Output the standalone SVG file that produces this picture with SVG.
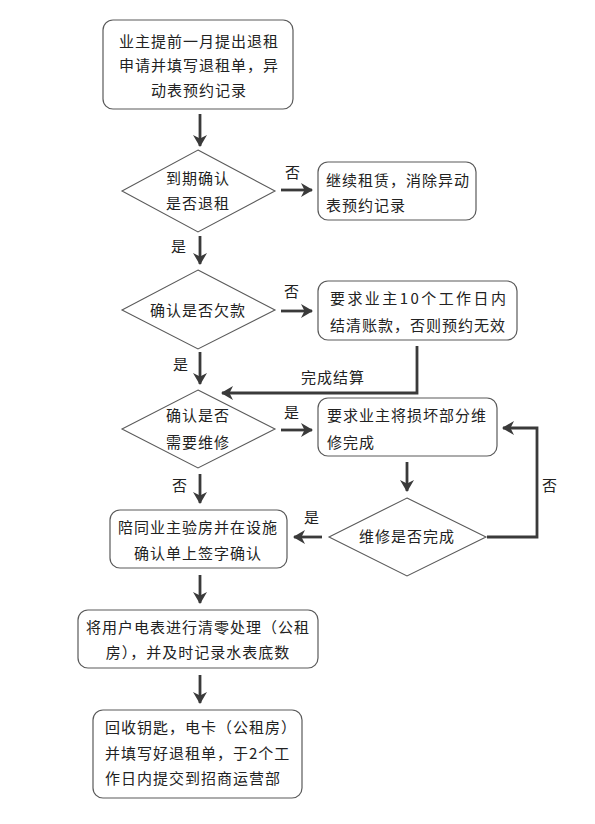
<svg xmlns="http://www.w3.org/2000/svg" width="595" height="824" viewBox="0 0 595 824">
<defs>
<marker id="ah" markerUnits="userSpaceOnUse" viewBox="0 0 12 14" markerWidth="12" markerHeight="14" refX="11" refY="7" orient="auto">
<path d="M0,0 L12,7 L0,14 L3.5,7 z" fill="#3a3a3a"/>
</marker>
<style>
.box{fill:#fff;stroke:#5a5a5a;stroke-width:1.2}
.dia{fill:#fff;stroke:#5a5a5a;stroke-width:1.1}
.t{font-family:"Noto Sans CJK SC","Microsoft YaHei",sans-serif;font-size:15px;fill:#222;letter-spacing:1px}
.c{text-anchor:middle}
.ln{fill:none;stroke:#3a3a3a;stroke-width:2.8}
.ar{marker-end:url(#ah)}
</style>
</defs>
<rect width="595" height="824" fill="#fff"/>

<g id="connectors">
<line class="ln ar" x1="200" y1="114" x2="200" y2="146"/>
<line class="ln ar" x1="281" y1="190" x2="312" y2="190"/>
<line class="ln ar" x1="200" y1="236" x2="200" y2="264"/>
<line class="ln ar" x1="281" y1="311" x2="312" y2="311"/>
<line class="ln ar" x1="200" y1="352" x2="200" y2="384"/>
<polyline class="ln ar" points="417,346 417,393 222,393"/>
<line class="ln ar" x1="281" y1="430" x2="312" y2="430"/>
<line class="ln ar" x1="407" y1="462" x2="407" y2="491"/>
<polyline class="ln ar" points="487,537 537,537 537,428 503,428"/>
<line class="ln ar" x1="322" y1="537" x2="294" y2="537"/>
<line class="ln ar" x1="200" y1="474" x2="200" y2="503"/>
<line class="ln ar" x1="200" y1="575" x2="200" y2="603"/>
<line class="ln ar" x1="200" y1="675" x2="200" y2="703"/>
<text class="t c" x="293" y="178">否</text>
<text class="t c" x="179" y="252">是</text>
<text class="t c" x="292" y="297">否</text>
<text class="t c" x="181" y="370">是</text>
<text class="t c" x="333" y="383">完成结算</text>
<text class="t c" x="292" y="418">是</text>
<text class="t c" x="180" y="491">否</text>
<text class="t c" x="312" y="523">是</text>
<text class="t c" x="550" y="491">否</text>
</g>

<g id="n1">
<rect class="box" x="103" y="20" width="190" height="89" rx="10"/>
<text class="t c" x="199" y="47">业主提前一月提出退租</text>
<text class="t c" x="199" y="71">申请并填写退租单，异</text>
<text class="t c" x="199" y="96">动表预约记录</text>
</g>

<g id="d1">
<polygon class="dia" points="198,150 275,191 198,232 122,191"/>
<text class="t c" x="198" y="184">到期确认</text>
<text class="t c" x="198" y="209">是否退租</text>
</g>

<g id="n2">
<rect class="box" x="318" y="162" width="158" height="58" rx="10"/>
<text class="t" x="326" y="186">继续租赁，消除异动</text>
<text class="t" x="326" y="211">表预约记录</text>
</g>

<g id="d2">
<polygon class="dia" points="198,270 275,310 198,349 122,310"/>
<text class="t c" x="198" y="316">确认是否欠款</text>
</g>

<g id="n3">
<rect class="box" x="318" y="281" width="199" height="59" rx="10"/>
<text class="t" x="330" y="304" textLength="177" lengthAdjust="spacing">要求业主10个工作日内</text>
<text class="t" x="330" y="331">结清账款，否则预约无效</text>
</g>

<g id="d3">
<polygon class="dia" points="198,390 275,429 198,468 122,429"/>
<text class="t c" x="198" y="421">确认是否</text>
<text class="t c" x="198" y="448">需要维修</text>
</g>

<g id="n4">
<rect class="box" x="318" y="398" width="179" height="58" rx="10"/>
<text class="t" x="327" y="421">要求业主将损坏部分维</text>
<text class="t" x="327" y="448">修完成</text>
</g>

<g id="d4">
<polygon class="dia" points="407,498 486,537 407,576 329,537"/>
<text class="t c" x="407" y="542">维修是否完成</text>
</g>

<g id="n5">
<rect class="box" x="110" y="510" width="177" height="58" rx="10"/>
<text class="t c" x="198" y="533">陪同业主验房并在设施</text>
<text class="t c" x="198" y="559">确认单上签字确认</text>
</g>

<g id="n6">
<rect class="box" x="78" y="610" width="240" height="58" rx="10"/>
<text class="t c" x="198" y="633">将用户电表进行清零处理（公租</text>
<text class="t c" x="198" y="658">房），并及时记录水表底数</text>
</g>

<g id="n7">
<rect class="box" x="93" y="710" width="209" height="88" rx="10"/>
<text class="t" x="105" y="733">回收钥匙，电卡（公租房）</text>
<text class="t" x="105" y="759">并填写好退租单，于2个工</text>
<text class="t" x="105" y="784">作日内提交到招商运营部</text>
</g>
</svg>
